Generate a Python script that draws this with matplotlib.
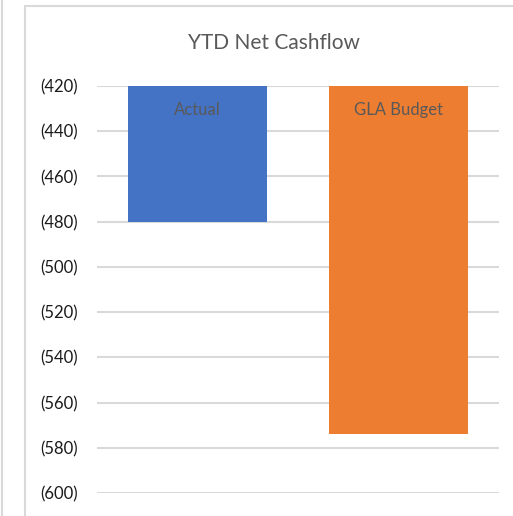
import matplotlib.pyplot as plt
from matplotlib.patches import Rectangle
from matplotlib.lines import Line2D
from matplotlib.ticker import FuncFormatter

categories = ['Actual', 'GLA Budget']
values = [-480, -574]
colors = ['#4472C4', '#ED7D31']
baseline = -420
y_ticks = [-420, -440, -460, -480, -500, -520, -540, -560, -580, -600]

plt.rcParams['font.family'] = ['Lato', 'DejaVu Sans']

fig = plt.figure(figsize=(5.13, 5.16), dpi=100)

# chart frame borders
fig.add_artist(Rectangle((25 / 513, -0.1), 1.0, 1 - 6 / 516 + 0.1,
                         transform=fig.transFigure, fill=False,
                         edgecolor='#D9D9D9', linewidth=1.5))
fig.add_artist(Line2D([2 / 513, 2 / 513], [0, 1], transform=fig.transFigure,
                      color='#D9D9D9', linewidth=1.5))

ax = fig.add_axes([97 / 513, 1 - 493 / 516, 402 / 513, (493 - 86) / 516])

x = range(len(categories))
heights = [v - baseline for v in values]
ax.bar(x, heights, bottom=baseline, width=0.69, color=colors, zorder=3)

for i, cat in enumerate(categories):
    ax.text(i, baseline - 10.5, cat, ha='center', va='center',
            fontsize=12, color='#595959', zorder=4)

ax.set_xlim(-0.5, 1.5)
ax.set_ylim(-600, -420)
ax.set_yticks(y_ticks)
ax.yaxis.set_major_formatter(FuncFormatter(lambda v, p: f'({abs(v):.0f})'))
ax.set_xticks([])
ax.grid(axis='y', color='#D9D9D9', linewidth=1.5, zorder=0)
for s in ax.spines.values():
    s.set_visible(False)
ax.tick_params(axis='y', length=0, pad=13.5, labelsize=12, labelcolor='#1a1a1a')

fig.text(274 / 513, 1 - 43 / 516, 'YTD Net Cashflow', ha='center', va='center',
         fontsize=15, color='#595959')

fig.savefig('out.png', dpi=100)
